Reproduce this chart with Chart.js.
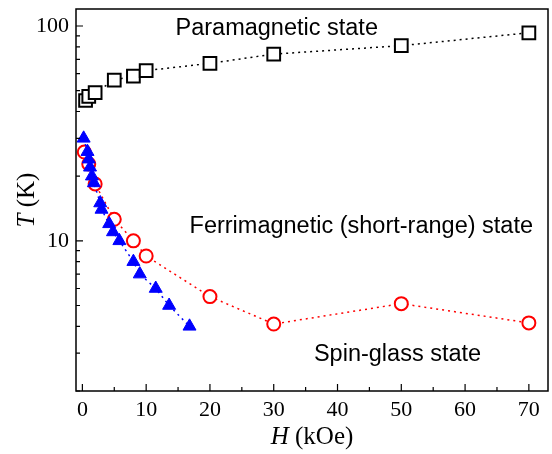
<!DOCTYPE html>
<html>
<head>
<meta charset="utf-8">
<script src="https://cdn.jsdelivr.net/npm/chart.js@4.4.1/dist/chart.umd.min.js"></script>
<style>
  html, body { margin: 0; padding: 0; background: #fff; }
  #wrap { width: 552px; height: 454px; }
</style>
</head>
<body>
<div id="wrap"><canvas id="c" width="552" height="454"></canvas></div>
<script>
// --- Data ---
const paraH = [0.5, 1, 2, 5, 8, 10, 20, 30, 50, 70];
const paraT = [45, 47, 49, 56, 58.5, 62, 67, 74, 81, 93];

const glassH = [0.3, 1, 2, 5, 8, 10, 20, 30, 50, 70];
const glassT = [25.9, 22.8, 18.4, 12.6, 10, 8.5, 5.5, 4.1, 5.1, 4.15];

const ferriH = [0.2, 0.8, 1, 1.2, 1.5, 1.8, 2.8, 3, 4.2, 4.8, 5.8, 8, 9, 11.5, 13.6, 16.8];
const ferriT = [30, 26, 24, 22, 20, 18.6, 15, 14, 12, 11, 10, 8, 7, 6, 5, 4];

const xTicks = [0, 10, 20, 30, 40, 50, 60, 70];
const xMinor = [5, 15, 25, 35, 45, 55, 65];
const yTicks = [10, 100];
const yMinor = [2, 3, 4, 5, 6, 7, 8, 9, 20, 30, 40, 50, 60, 70, 80, 90];

const labels = [
  { text: 'Paramagnetic state', x: 14.6, y: 97 },
  { text: 'Ferrimagnetic (short-range) state', x: 16.8, y: 11.7 },
  { text: 'Spin-glass state', x: 36.3, y: 2.95 }
];

const pts = (xs, ys) => xs.map((x, i) => ({ x: x, y: ys[i] }));

// frame, inside ticks, titles and region labels
const decor = {
  id: 'decor',
  afterDraw(chart) {
    const ctx = chart.ctx, a = chart.chartArea;
    const sx = chart.scales.x, sy = chart.scales.y;
    ctx.save();
    ctx.strokeStyle = '#000';
    ctx.lineWidth = 1.5;
    ctx.strokeRect(a.left, a.top, a.right - a.left, a.bottom - a.top);
    ctx.lineWidth = 1.2;
    ctx.beginPath();
    xTicks.forEach(v => { const p = sx.getPixelForValue(v); ctx.moveTo(p, a.bottom); ctx.lineTo(p, a.bottom - 7); });
    xMinor.forEach(v => { const p = sx.getPixelForValue(v); ctx.moveTo(p, a.bottom); ctx.lineTo(p, a.bottom - 4); });
    yTicks.forEach(v => { const p = sy.getPixelForValue(v); ctx.moveTo(a.left, p); ctx.lineTo(a.left + 7, p); });
    yMinor.forEach(v => { const p = sy.getPixelForValue(v); ctx.moveTo(a.left, p); ctx.lineTo(a.left + 4, p); });
    ctx.stroke();

    ctx.fillStyle = '#000';
    ctx.textBaseline = 'middle';
    ctx.textAlign = 'left';
    ctx.font = '23.5px "Liberation Sans", Arial, sans-serif';
    labels.forEach(l => ctx.fillText(l.text, sx.getPixelForValue(l.x), sy.getPixelForValue(l.y)));

    // axis titles: italic symbol + units
    const drawTitle = (it, rest, cx, cy) => {
      ctx.font = 'italic 25px "Liberation Serif", serif';
      const w1 = ctx.measureText(it).width;
      ctx.font = '25px "Liberation Serif", serif';
      const w2 = ctx.measureText(rest).width;
      let x0 = cx - (w1 + w2) / 2;
      ctx.font = 'italic 25px "Liberation Serif", serif';
      ctx.fillText(it, x0, cy);
      ctx.font = '25px "Liberation Serif", serif';
      ctx.fillText(rest, x0 + w1, cy);
    };
    drawTitle('H', ' (kOe)', (a.left + a.right) / 2, 437);
    ctx.translate(27, (a.top + a.bottom) / 2);
    ctx.rotate(-Math.PI / 2);
    drawTitle('T', ' (K)', 0, 0);
    ctx.restore();
  }
};

new Chart(document.getElementById('c'), {
  type: 'scatter',
  data: {
    datasets: [
      {
        label: 'Ferri', data: pts(ferriH, ferriT), showLine: true, order: 0,
        borderColor: '#0000ff', borderWidth: 1.5, borderDash: [2, 4],
        pointStyle: 'triangle', pointRadius: 7.5, pointBackgroundColor: '#0000ff',
        pointBorderColor: '#0000ff', pointBorderWidth: 1
      },
      {
        label: 'Glass', data: pts(glassH, glassT), showLine: true, order: 1,
        borderColor: '#ff0000', borderWidth: 1.5, borderDash: [2, 4],
        pointStyle: 'circle', pointRadius: 6.5, pointBackgroundColor: '#ffffff',
        pointBorderColor: '#ff0000', pointBorderWidth: 2
      },
      {
        label: 'Para', data: pts(paraH, paraT), showLine: true, order: 2,
        borderColor: '#000000', borderWidth: 1.5, borderDash: [2, 4],
        pointStyle: 'rect', pointRadius: 9, pointBackgroundColor: '#ffffff',
        pointBorderColor: '#000000', pointBorderWidth: 2
      }
    ]
  },
  options: {
    responsive: false, animation: false,
    layout: { autoPadding: false, padding: { top: 9, right: 4, left: 0, bottom: 0 } },
    plugins: { legend: { display: false }, tooltip: { enabled: false } },
    scales: {
      x: {
        type: 'linear', min: -1, max: 73,
        afterBuildTicks: s => { s.ticks = xTicks.map(v => ({ value: v })); },
        afterFit: s => { s.height = 63; },
        grid: { display: false, drawTicks: false },
        border: { display: false },
        ticks: { color: '#000', padding: 6, maxRotation: 0, autoSkip: false,
          font: { family: '"Liberation Serif", serif', size: 22 } }
      },
      y: {
        type: 'logarithmic', min: 2, max: 120,
        afterBuildTicks: s => { s.ticks = yTicks.map(v => ({ value: v })); },
        afterFit: s => { s.width = 76; s.paddingTop = 0; s.paddingBottom = 0; },
        grid: { display: false, drawTicks: false },
        border: { display: false },
        ticks: { color: '#000', padding: 7, autoSkip: false,
          callback: v => String(v),
          font: { family: '"Liberation Serif", serif', size: 22 } }
      }
    }
  },
  plugins: [decor]
});
</script>
</body>
</html>
